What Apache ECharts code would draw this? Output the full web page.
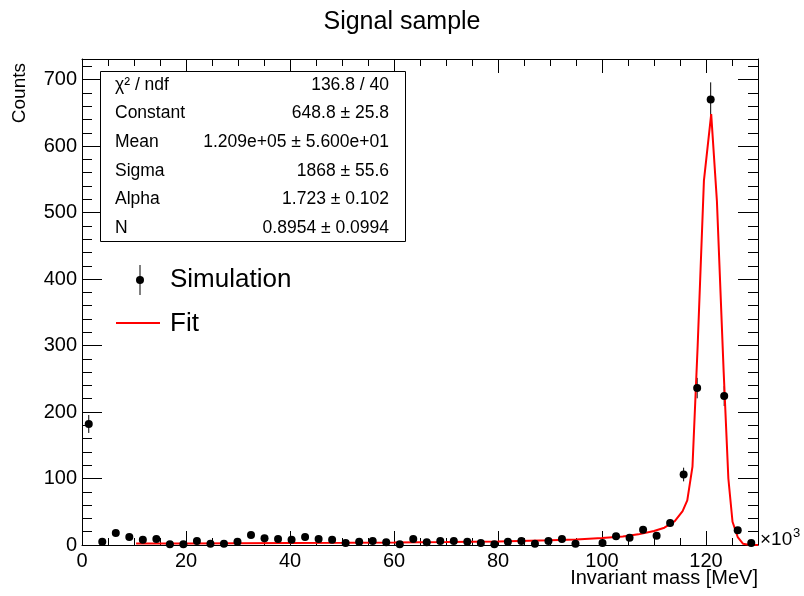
<!DOCTYPE html>
<html>
<head>
<meta charset="utf-8">
<script src="https://cdn.jsdelivr.net/npm/echarts@6/dist/echarts.min.js"></script>
<style>
  html, body { margin: 0; padding: 0; background: #fff; }
  #chart { width: 804px; height: 596px; }
</style>
</head>
<body>
<div id="chart"></div>
<script>
  // histogram: 50 bins from 0 to 130 (x10^3 MeV)
  const binWidth = 2.6;
  const counts = [182, 5, 18, 12, 8, 9, 1, 1, 6, 2,
    2, 5, 15, 10, 9, 8, 12, 9, 8, 3,
    5, 6, 4, 1, 9, 4, 6, 6, 5, 3,
    1, 5, 6, 2, 6, 9, 2, 0, 3, 13,
    11, 23, 14, 33, 106, 236, 670, 224, 22, 3];

  // fit curve
  const fitX = [10.4, 20, 30, 40, 50, 60, 70, 80, 90, 95, 100, 104, 107, 110, 112, 114,
    115.5, 116.4, 117.4, 118.4, 119.6, 121.0, 122.1, 123.4, 124.3, 125.1, 126.1, 127.1, 128.2, 130];
  const fitY = [2.2, 2.4, 2.6, 2.9, 3.2, 3.7, 4.4, 5.4, 7.1, 8.4, 10.4, 12.9, 16, 21, 26, 36,
    51, 67, 118, 300, 548, 648, 517, 260, 100, 35, 12, 2, 0.3, 0];

  const statNames = ['\u03c7\u00b2 / ndf', 'Constant', 'Mean', 'Sigma', 'Alpha', 'N'];
  const statValues = ['136.8 / 40', '648.8 \u00b1 25.8', '1.209e+05 \u00b1 5.600e+01',
    '1868 \u00b1 55.6', '1.723 \u00b1 0.102', '0.8954 \u00b1 0.0994'];

  const font = '"Liberation Sans", Arial, Helvetica, sans-serif';
  const xMax = 130;
  const yMax = 731;

  const points = [];
  counts.forEach((c, i) => {
    if (c > 0) points.push([(i + 0.5) * binWidth, c]);
  });
  const fitData = fitX.map((x, i) => [x, fitY[i]]);

  const chart = echarts.init(document.getElementById('chart'));

  function xAx(pos, major, showLabel) {
    return {
      type: 'value', position: pos, min: 0, max: xMax, interval: major ? 20 : 5,
      axisLine: { show: major, onZero: false, lineStyle: { color: '#000', width: 1 } },
      axisTick: { show: true, inside: true, length: major ? 14 : 7, lineStyle: { color: '#000' } },
      axisLabel: { show: showLabel, color: '#000', fontSize: 20, fontFamily: font, margin: 6, showMaxLabel: false },
      splitLine: { show: false }
    };
  }
  function yAx(pos, major, showLabel) {
    return {
      type: 'value', position: pos, min: 0, max: yMax, interval: major ? 100 : 20,
      axisLine: { show: major, onZero: false, lineStyle: { color: '#000', width: 1 } },
      axisTick: { show: true, inside: true, length: major ? 20 : 10, lineStyle: { color: '#000' } },
      axisLabel: { show: showLabel, color: '#000', fontSize: 20, fontFamily: font, margin: 5, showMaxLabel: false },
      splitLine: { show: false }
    };
  }

  const graphics = [
    { type: 'text', left: 'center', top: 10, style: { text: 'Signal sample', fontSize: 25, fontFamily: font, fill: '#000' } },
    { type: 'text', style: { x: 758, y: 578, text: 'Invariant mass [MeV]', fontSize: 20, fontFamily: font, fill: '#000', align: 'right', verticalAlign: 'middle' } },
    { type: 'text', rotation: Math.PI / 2, x: 20, y: 63, style: { x: 0, y: 0, text: 'Counts', fontSize: 19, fontFamily: font, fill: '#000', align: 'right', verticalAlign: 'middle' } },
    { type: 'text', style: { x: 760, y: 540, text: '\u00d710', fontSize: 19, fontFamily: font, fill: '#000', align: 'left', verticalAlign: 'middle' } },
    { type: 'text', style: { x: 793, y: 533, text: '3', fontSize: 13, fontFamily: font, fill: '#000', align: 'left', verticalAlign: 'middle' } },
    { type: 'rect', shape: { x: 100.5, y: 71.5, width: 305, height: 170 }, style: { fill: '#fff', stroke: '#000', lineWidth: 1 }, z: 10 },
    // legend
    { type: 'line', shape: { x1: 140, y1: 265, x2: 140, y2: 295 }, style: { stroke: '#000', lineWidth: 1 }, z: 10 },
    { type: 'circle', shape: { cx: 140, cy: 280, r: 4 }, style: { fill: '#000' }, z: 10 },
    { type: 'text', style: { x: 170, y: 280, text: 'Simulation', fontSize: 26, fontFamily: font, fill: '#000', verticalAlign: 'middle' }, z: 10 },
    { type: 'line', shape: { x1: 116, y1: 323, x2: 160, y2: 323 }, style: { stroke: '#ff0000', lineWidth: 2 }, z: 10 },
    { type: 'text', style: { x: 170, y: 324, text: 'Fit', fontSize: 26, fontFamily: font, fill: '#000', verticalAlign: 'middle' }, z: 10 }
  ];
  statNames.forEach((name, i) => {
    const y = 85 + i * 28.6;
    graphics.push({ type: 'text', style: { x: 115, y: y, text: name, fontSize: 17.5, fontFamily: font, fill: '#000', verticalAlign: 'middle' }, z: 11 });
    graphics.push({ type: 'text', style: { x: 389, y: y, text: statValues[i], fontSize: 17.5, fontFamily: font, fill: '#000', align: 'right', verticalAlign: 'middle' }, z: 11 });
  });

  chart.setOption({
    animation: false,
    backgroundColor: '#fff',
    grid: { left: 82, right: 46, top: 59, bottom: 51 },
    xAxis: [xAx('bottom', true, true), xAx('top', true, false), xAx('bottom', false, false), xAx('top', false, false)],
    yAxis: [yAx('left', true, true), yAx('right', true, false), yAx('left', false, false), yAx('right', false, false)],
    series: [
      {
        type: 'custom',
        data: points,
        renderItem: function (params, api) {
          const x = api.value(0);
          const c = api.value(1);
          const e = Math.sqrt(c);
          const p1 = api.coord([x, c - e]);
          const p2 = api.coord([x, c + e]);
          return {
            type: 'line',
            shape: { x1: p1[0], y1: p1[1], x2: p2[0], y2: p2[1] },
            style: { stroke: '#000', lineWidth: 1 }
          };
        },
        z: 3
      },
      {
        type: 'line',
        data: fitData,
        showSymbol: false,
        symbol: 'none',
        lineStyle: { color: '#ff0000', width: 2 },
        z: 4
      },
      {
        type: 'scatter',
        data: points,
        symbol: 'circle',
        symbolSize: 8,
        itemStyle: { color: '#000', opacity: 1 },
        z: 5
      }
    ],
    graphic: graphics
  });
</script>
</body>
</html>
